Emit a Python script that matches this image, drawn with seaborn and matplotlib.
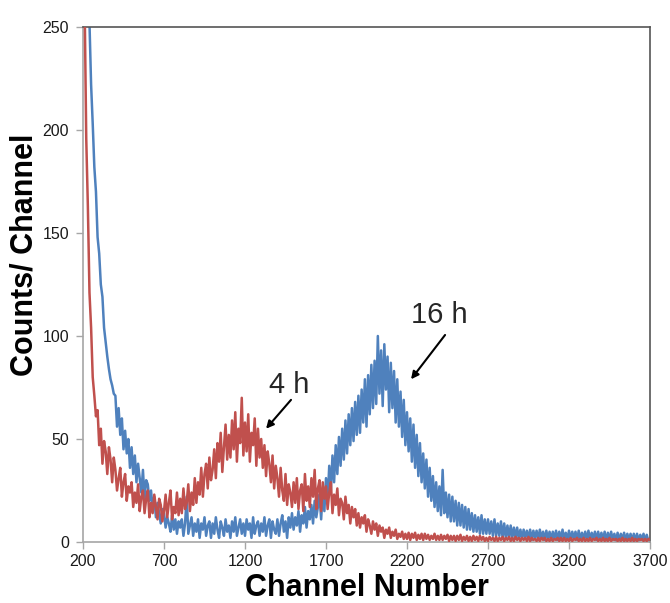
import numpy as np
import pandas as pd
import matplotlib
matplotlib.use("Agg")
import matplotlib.pyplot as plt
import seaborn as sns

# ---- data ----
channel = np.arange(200, 3710, 10)

counts_4h = [
    400, 262, 196, 163, 121, 104, 80, 71, 61, 64,
    47, 55, 38, 49, 44, 33, 46, 40, 29, 41,
    35, 25, 31, 36, 22, 29, 33, 20, 27, 24,
    29, 17, 24, 19, 28, 15, 22, 25, 14, 21,
    25, 12, 19, 14, 23, 17, 11, 21, 18, 10,
    15, 23, 12, 19, 25, 11, 17, 14, 24, 13,
    21, 14, 26, 16, 19, 28, 15, 24, 18, 31,
    19, 29, 23, 36, 22, 33, 38, 26, 41, 30,
    35, 45, 31, 48, 39, 53, 34, 46, 57, 40,
    52, 41, 59, 45, 63, 39, 55, 48, 70, 42,
    58, 44, 62, 39, 53, 47, 60, 37, 55, 41,
    50, 36, 47, 32, 44, 38, 29, 42, 26, 37,
    31, 22, 36, 25, 20, 33, 18, 28, 24, 17,
    29, 19, 31, 16, 25, 28, 15, 33, 20, 27,
    17, 31, 22, 35, 16, 26, 30, 15, 29, 21,
    27, 16, 24, 29, 14, 23, 18, 26, 13, 21,
    19, 11, 22, 14, 18, 9, 17, 12, 16, 8,
    14, 7, 12, 9, 13, 5, 11, 8, 4, 10,
    6, 9, 3, 8, 5, 7, 2, 6, 4, 7,
    2, 5, 3, 6, 1.5, 4, 2.5, 5, 1.5, 4,
    1.5, 4.5, 1, 4, 2, 4.5, 1, 3.5, 1.5, 4,
    1, 4, 1.5, 3.5, 1, 3, 1.5, 4, 1, 3,
    1, 3.5, 1, 3, 1.5, 3.5, 0.5, 3, 1, 3,
    0.5, 3, 1, 3.5, 0.5, 2.5, 1, 3, 0.5, 2.5,
    0.5, 3, 1, 2.5, 0.5, 3, 1, 2.5, 0.5, 2,
    0.5, 2.5, 1, 2, 0.5, 2.5, 0.5, 2, 1, 2.5,
    0.5, 2, 1, 2.5, 0.5, 2, 0.5, 2.5, 1, 2,
    0.5, 2, 1, 2, 0.5, 2.5, 0.5, 2, 1, 1.5,
    0.5, 2, 0.5, 2, 1, 2, 0.5, 1.5, 0.5, 2,
    0.5, 1.5, 1, 2, 0.5, 2, 0.5, 2, 0.5, 1.5,
    0.5, 2, 0.5, 1.5, 1, 2, 0.5, 1.5, 0.5, 2,
    0.5, 1.5, 0.5, 2, 0.5, 1.5, 1, 2, 0.5, 1.5,
    0.5, 2, 0.5, 1.5, 0.5, 2, 0.5, 1.5, 1, 1.5,
    0.5, 1.5, 0.5, 2, 0.5, 1.5, 0.5, 1.5, 0.5, 2,
    0.5, 1.5, 0.5, 1.5, 1, 1.5, 0.5, 1.5, 0.5, 1.5,
    1,
]

counts_16h = [
    600, 500, 400, 320, 252, 222, 203, 182, 170, 148,
    140, 125, 119, 104, 97, 90, 84, 79, 76, 72,
    71, 56, 65, 52, 60, 45, 54, 43, 50, 36,
    46, 33, 42, 29, 38, 31, 24, 35, 21, 30,
    28, 20, 25, 16, 22, 12, 19, 14, 9, 16,
    14, 7, 12, 9, 5, 13, 6, 11, 4, 10,
    7, 11, 3, 9, 22, 4, 8, 12, 3, 9,
    5, 11, 2, 9, 6, 12, 3, 8, 10, 2,
    9, 4, 12, 6, 2, 10, 7, 3, 11, 5,
    8, 2, 10, 5, 12, 3, 7, 11, 4, 9,
    3, 11, 6, 9, 2, 12, 4, 8, 10, 3,
    9, 5, 12, 3, 8, 11, 2, 10, 6, 4,
    11, 3, 9, 13, 5, 10, 2, 12, 7, 14,
    6, 12, 8, 15, 5, 13, 9, 17, 7, 15,
    11, 18, 9, 20, 12, 17, 23, 11, 25, 15,
    31, 20, 37, 25, 42, 29, 47, 33, 51, 37,
    55, 40, 59, 43, 62, 47, 65, 49, 68, 52,
    71, 53, 74, 58, 79, 56, 81, 62, 86, 65,
    88, 67, 100, 72, 93, 66, 96, 74, 90, 63,
    87, 65, 83, 58, 79, 56, 73, 51, 69, 47,
    63, 44, 60, 39, 57, 36, 52, 32, 48, 29,
    43, 26, 40, 22, 36, 20, 32, 17, 29, 15,
    27, 13, 35, 14, 24, 12, 23, 10, 22, 10,
    20, 8, 19, 8, 18, 7, 17, 6, 16, 6,
    14, 5, 13, 5, 12, 4, 13, 4, 11, 4,
    11, 4, 10, 3, 11, 3, 9, 3, 10, 2,
    9, 2, 8, 2, 8, 2, 7, 2, 7, 1.5,
    6, 1.5, 6, 2, 5.5, 1.5, 6, 1, 5.5, 2,
    5.5, 1, 6, 1.5, 5, 1, 5.5, 1.5, 5, 1,
    5, 1.5, 5.5, 1, 5, 1, 6, 1.5, 4.5, 1,
    5.5, 1, 5, 1.5, 5, 1, 5.5, 1, 4.5, 1.5,
    5, 1, 5.5, 1, 4.5, 1.5, 5, 1, 5, 1,
    4.5, 1, 5, 0.5, 4.5, 1, 5, 1, 4, 0.5,
    4.5, 0.5, 4, 1, 4.5, 0.5, 4, 1, 4, 0.5,
    4, 0.5, 4, 0.5, 3.5, 1, 4, 0.5, 3.5, 0.5,
    1.5,
]

x_ticks = [200, 700, 1200, 1700, 2200, 2700, 3200, 3700]
y_ticks = [0, 50, 100, 150, 200, 250]

df = pd.DataFrame({
    "channel": np.concatenate([channel, channel]),
    "counts": np.concatenate([counts_4h, counts_16h]),
    "series": ["4 h"] * len(channel) + ["16 h"] * len(channel),
})

RED = "#C0504D"
BLUE = "#4F81BD"

# ---- plot ----
sns.set_theme(style="white")
plt.rcParams["font.family"] = ["Liberation Sans", "DejaVu Sans"]

fig = plt.figure(figsize=(6.70, 6.03), dpi=100)
ax = fig.add_axes([83 / 670, 1 - 542 / 603, 567 / 670, 515 / 603])

sns.lineplot(data=df[df.series == "16 h"], x="channel", y="counts",
             color=BLUE, linewidth=1.8, ax=ax, estimator=None, zorder=2)
sns.lineplot(data=df[df.series == "4 h"], x="channel", y="counts",
             color=RED, linewidth=1.8, ax=ax, estimator=None, zorder=3)

ax.set_xlim(200, 3700)
ax.set_ylim(0, 250)
ax.set_xticks(x_ticks)
ax.set_yticks(y_ticks)
ax.tick_params(axis="both", which="major", direction="out", length=5,
               width=1, color="#A6A6A6", labelsize=11.5, labelcolor="#1a1a1a",
               bottom=True, left=True)
ax.tick_params(axis="x", pad=3.5)
ax.tick_params(axis="y", pad=5)

for side in ("left", "bottom"):
    ax.spines[side].set_color("#A6A6A6")
    ax.spines[side].set_linewidth(1.2)
for side in ("top", "right"):
    ax.spines[side].set_color("#555555")
    ax.spines[side].set_linewidth(1.2)

ax.set_xlabel("Channel Number", fontsize=22, fontweight="bold", color="black")
ax.set_ylabel("Counts/ Channel", fontsize=22, fontweight="bold", color="black")
ax.xaxis.label.set_va("baseline")
ax.xaxis.set_label_coords(0.5, (542 - 596) / 515)
ax.yaxis.set_label_coords(-0.076, 0.557)

# annotations
ax.text(1472, 76, "4 h", fontsize=21, ha="center", va="center")
ax.annotate("", xy=(1330, 55), xytext=(1484, 69),
            arrowprops=dict(arrowstyle="-|>", color="black", lw=1.5,
                            mutation_scale=11, shrinkA=0, shrinkB=0))
ax.text(2398, 110, "16 h", fontsize=21, ha="center", va="center")
ax.annotate("", xy=(2225, 79), xytext=(2435, 100.5),
            arrowprops=dict(arrowstyle="-|>", color="black", lw=1.5,
                            mutation_scale=11, shrinkA=0, shrinkB=0))

fig.savefig("out.png", dpi=100)
